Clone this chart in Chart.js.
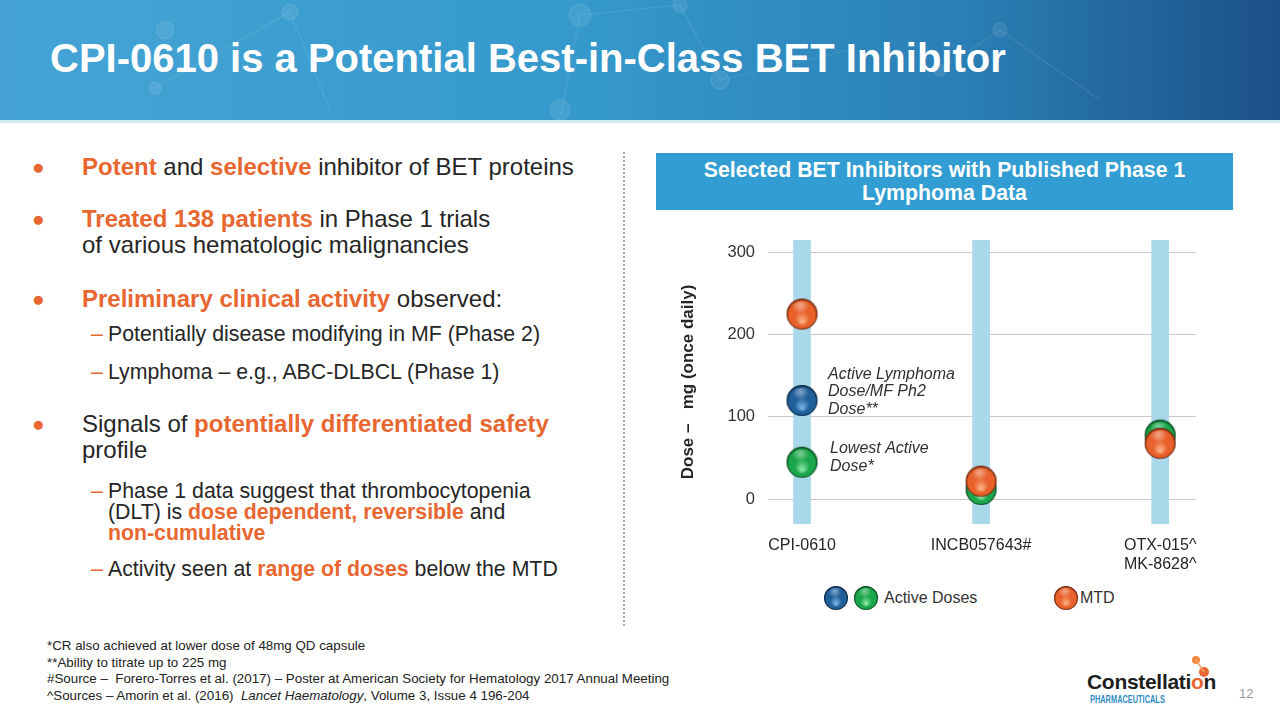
<!DOCTYPE html>
<html>
<head>
<meta charset="utf-8">
<script src="https://cdn.jsdelivr.net/npm/chart.js@4.4.1/dist/chart.umd.min.js"></script>
<style>
  html, body { margin: 0; padding: 0; }
  body { width: 1280px; height: 720px; position: relative; overflow: hidden; background: #fff;
         font-family: Arial, "Liberation Sans", Helvetica, sans-serif; color: #262626; }
  .abs { position: absolute; white-space: nowrap; }
  #header { left: 0; top: 0; width: 1280px; height: 120px;
            background: linear-gradient(90deg, #45a4d5 0%, #3599cc 45%, #2a80b6 75%, #1c5088 100%); }
  #header-line { left: 0; top: 120px; width: 1280px; height: 3px; background: #d5ebf5; }
  #title { left: 50px; top: 36px; font-size: 40px; font-weight: bold; color: #fff; }
  .b { font-size: 24px; line-height: 26px; left: 82px; }
  .b::before { content: "\25CF"; color: #e8662f; position: absolute; left: -50px; top: 0px; font-size: 21px; }
  .s { font-size: 21.3px; line-height: 21px; left: 108px; }
  .s::before { content: "\2013"; color: #e8662f; position: absolute; left: -17px; }
  .o { color: #e8662f; font-weight: bold; }
  #sep { left: 623px; top: 152px; height: 474px; border-left: 2px dotted #a8a8a8; }
  #boxtitle { left: 656px; top: 153px; width: 577px; height: 57px; background: #319dd2; color: #fff;
              font-weight: bold; font-size: 21.3px; line-height: 23px; text-align: center;
              display: flex; align-items: center; justify-content: center; white-space: normal; }
  #chartwrap { left: 660px; top: 217px; width: 580px; height: 363px; }
  .leg { font-size: 16px; color: #333; top: 589px; }
  #notes { left: 47px; top: 638px; font-size: 13.35px; line-height: 16.7px; color: #222; }
  #page { left: 1239px; top: 686px; font-size: 13px; color: #9a9a9a; }
  #logo1 { left: 1087px; top: 670px; font-size: 21px; font-weight: bold; color: #1e1e1e; letter-spacing: -0.3px; }
  #logo2 { left: 1090px; top: 694px; font-size: 10px; font-weight: bold; color: #2f8cc6;
           transform: scaleX(0.74); transform-origin: left top; }
</style>
</head>
<body>
<div id="header" class="abs">
  <svg width="1280" height="120" style="position:absolute;left:0;top:0">
    <g stroke="rgba(255,255,255,0.10)" stroke-width="1.2" fill="rgba(255,255,255,0.08)">
      <line x1="290" y1="12" x2="155" y2="88"/><line x1="290" y1="12" x2="330" y2="110"/>
      <line x1="580" y1="15" x2="680" y2="5"/><line x1="580" y1="15" x2="560" y2="118"/>
      <line x1="680" y1="5" x2="720" y2="80"/><line x1="720" y1="80" x2="850" y2="50"/>
      <line x1="1000" y1="30" x2="1100" y2="100"/><line x1="940" y1="70" x2="1000" y2="30"/>
      <circle cx="290" cy="12" r="8"/><circle cx="155" cy="88" r="6"/><circle cx="580" cy="15" r="11"/>
      <circle cx="680" cy="5" r="7"/><circle cx="720" cy="80" r="9"/><circle cx="560" cy="110" r="10"/>
      <circle cx="1000" cy="30" r="7"/><circle cx="940" cy="70" r="6"/><circle cx="165" cy="30" r="9"/>
    </g>
  </svg>
</div>
<div id="header-line" class="abs"></div>
<div id="title" class="abs">CPI-0610 is a Potential Best-in-Class BET Inhibitor</div>

<div class="abs b" style="top:154px"><span class="o">Potent</span> and <span class="o">selective</span> inhibitor of BET proteins</div>
<div class="abs b" style="top:206px"><span class="o">Treated 138 patients</span> in Phase 1 trials<br>of various hematologic malignancies</div>
<div class="abs b" style="top:286px"><span class="o">Preliminary clinical activity</span> observed:</div>
<div class="abs s" style="top:324px">Potentially disease modifying in MF (Phase 2)</div>
<div class="abs s" style="top:362px">Lymphoma – e.g., ABC-DLBCL (Phase 1)</div>
<div class="abs b" style="top:411px">Signals of <span class="o">potentially differentiated safety</span><br>profile</div>
<div class="abs s" style="top:481px">Phase 1 data suggest that thrombocytopenia<br>(DLT) is <span class="o">dose dependent, reversible</span> and<br><span class="o">non-cumulative</span></div>
<div class="abs s" style="top:559px">Activity seen at <span class="o">range of doses</span> below the MTD</div>

<div id="sep" class="abs"></div>
<div id="boxtitle" class="abs">Selected BET Inhibitors with Published Phase 1<br>Lymphoma Data</div>

<div id="chartwrap" class="abs"><canvas id="chart" width="580" height="363"></canvas></div>

<canvas id="legBlue" class="abs" width="26" height="26" style="left:823px;top:585px"></canvas>
<canvas id="legGreen" class="abs" width="26" height="26" style="left:853px;top:585px"></canvas>
<div class="abs leg" style="left:884px">Active Doses</div>
<canvas id="legOrange" class="abs" width="26" height="26" style="left:1053px;top:585px"></canvas>
<div class="abs leg" style="left:1080px">MTD</div>

<div id="notes" class="abs">*CR also achieved at lower dose of 48mg QD capsule<br>**Ability to titrate up to 225 mg<br>#Source –&nbsp; Forero-Torres et al. (2017) – Poster at American Society for Hematology 2017 Annual Meeting<br>^Sources – Amorin et al. (2016)&nbsp; <i>Lancet Haematology</i>, Volume 3, Issue 4 196-204</div>

<div id="logo1" class="abs">Constellati<span style="color:#e8662f">o</span>n</div>
<div id="logo2" class="abs">PHARMACEUTICALS</div>
<svg class="abs" style="left:1185px;top:652px" width="30" height="45">
  <circle cx="11" cy="8" r="4" fill="#f08a3a"/>
  <circle cx="19" cy="20" r="5" fill="#e8662f"/>
  <line x1="11" y1="8" x2="19" y2="20" stroke="#f2a36a" stroke-width="1.5"/>
</svg>
<div id="page" class="abs">12</div>

<script>
// categories (x positions 0,1,2 on the chart)
var drugs = ['CPI-0610', 'INCB057643#', ['OTX-015^', 'MK-8628^']];
var drugPos = [0, 1, 2];
// doses, mg once daily
var activeLymphomaDose = [120, null, null];   // blue
var activeDoses = [45, 12, 78];               // green
var mtdDoses = [225, 22, 68];                 // orange
var yTicks = [0, 100, 200, 300];
var columnRange = [-30, 315];

function sphere(r, base, light, dark) {
  var c = document.createElement('canvas');
  c.width = c.height = 2 * r + 2;
  var g = c.getContext('2d');
  var cx = r + 1, cy = r + 1;
  var grad = g.createRadialGradient(cx, cy + r * 0.5, r * 0.05, cx, cy, r);
  grad.addColorStop(0, light);
  grad.addColorStop(0.45, base);
  grad.addColorStop(0.85, base);
  grad.addColorStop(1, dark);
  g.fillStyle = grad;
  g.beginPath(); g.arc(cx, cy, r, 0, Math.PI * 2); g.fill();
  var h = g.createRadialGradient(cx - r * 0.1, cy - r * 0.55, 0, cx - r * 0.1, cy - r * 0.55, r * 0.55);
  h.addColorStop(0, 'rgba(255,255,255,0.45)');
  h.addColorStop(1, 'rgba(255,255,255,0)');
  g.fillStyle = h;
  g.beginPath(); g.ellipse(cx, cy - r * 0.45, r * 0.62, r * 0.38, 0, 0, Math.PI * 2); g.fill();
  g.strokeStyle = 'rgba(0,0,0,0.35)'; g.lineWidth = 1;
  g.beginPath(); g.arc(cx, cy, r - 0.5, 0, Math.PI * 2); g.stroke();
  return c;
}

var orange = ['#e8602a', '#fbb086', '#8a2e10'];
var green = ['#1aa64a', '#8be8a6', '#0a5a24'];
var blue = ['#1f5f9a', '#79b2e2', '#0b2d52'];

var ballOrange = sphere(15.5, orange[0], orange[1], orange[2]);
var ballGreen = sphere(15.5, green[0], green[1], green[2]);
var ballBlue = sphere(15.5, blue[0], blue[1], blue[2]);

function legBall(id, col) {
  var ctx = document.getElementById(id).getContext('2d');
  ctx.drawImage(sphere(12, col[0], col[1], col[2]), 0, 0);
}
legBall('legBlue', blue);
legBall('legGreen', green);
legBall('legOrange', orange);

function pts(values) {
  var out = [];
  values.forEach(function(v, i) {
    if (v !== null) out.push({x: drugPos[i], y: v});
  });
  return out;
}

var notes = {
  id: 'notes',
  afterDatasetsDraw: function(chart) {
    var ctx = chart.ctx, xs = chart.scales.x, ys = chart.scales.y;
    ctx.save();
    ctx.font = 'italic 16px Arial, "Liberation Sans"';
    ctx.fillStyle = '#303030';
    ctx.textBaseline = 'middle';
    var x0 = xs.getPixelForValue(0);
    var yb = ys.getPixelForValue(activeLymphomaDose[0]);
    ['Active Lymphoma', 'Dose/MF Ph2', 'Dose**'].forEach(function(t, i) {
      ctx.fillText(t, x0 + 26, yb - 26 + i * 17.5);
    });
    var yg = ys.getPixelForValue(activeDoses[0]);
    ['Lowest Active', 'Dose*'].forEach(function(t, i) {
      ctx.fillText(t, x0 + 28, yg - 14 + i * 18);
    });
    ctx.restore();
  }
};

new Chart(document.getElementById('chart').getContext('2d'), {
  data: {
    datasets: [
      {
        type: 'bar',
        data: drugPos.map(function(p) { return {x: p, y: columnRange}; }),
        backgroundColor: '#a9d8eb',
        barThickness: 17,
        order: 10
      },
      { type: 'scatter', data: pts(activeDoses), pointStyle: ballGreen, pointRadius: 16, order: 3 },
      { type: 'scatter', data: pts(activeLymphomaDose), pointStyle: ballBlue, pointRadius: 16, order: 2 },
      { type: 'scatter', data: pts(mtdDoses), pointStyle: ballOrange, pointRadius: 16, order: 1 }
    ]
  },
  options: {
    responsive: false,
    animation: false,
    layout: { padding: { left: 18, top: 10, right: 44, bottom: 0 } },
    plugins: { legend: { display: false }, tooltip: { enabled: false } },
    scales: {
      x: {
        type: 'linear',
        offset: false,
        min: -0.19,
        max: 2.2,
        afterBuildTicks: function(s) { s.ticks = drugPos.map(function(p) { return {value: p}; }); },
        afterFit: function(s) { s.height = 56; },
        grid: { display: false, drawTicks: false },
        border: { display: false },
        ticks: {
          padding: 12,
          color: '#262626',
          font: { size: 16, family: 'Arial, "Liberation Sans"' },
          maxRotation: 0,
          callback: function(v) { return drugs[v]; }
        }
      },
      y: {
        min: columnRange[0],
        max: columnRange[1],
        afterBuildTicks: function(s) { s.ticks = yTicks.map(function(v) { return {value: v}; }); },
        afterFit: function(s) { s.width = 90; },
        grid: { color: '#c8c8c8', lineWidth: 1, drawTicks: false },
        border: { display: false },
        ticks: {
          padding: 13,
          color: '#333',
          font: { size: 16.5, family: 'Arial, "Liberation Sans"' }
        },
        title: {
          display: true,
          text: 'Dose –   mg (once daily)',
          color: '#262626',
          font: { size: 17, weight: 'bold', family: 'Arial, "Liberation Sans"' },
          padding: 0
        }
      }
    }
  },
  plugins: [notes]
});
</script>
</body>
</html>
